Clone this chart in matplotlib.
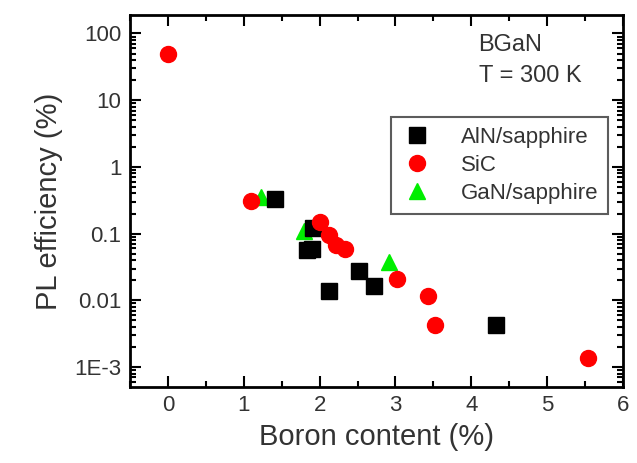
import numpy as np
import matplotlib
matplotlib.use('Agg')
import matplotlib.pyplot as plt
from matplotlib.ticker import LogLocator, MultipleLocator, FixedLocator

plt.rcParams['font.family'] = ['Liberation Sans', 'DejaVu Sans']

# AlN/sapphire (black squares)
aln_x = [1.41, 1.91, 1.84, 1.90, 2.12, 2.52, 2.72, 4.33]
aln_y = [0.33, 0.12, 0.057, 0.058, 0.0138, 0.028, 0.0166, 0.0042]

# SiC (red circles)
sic_x = [0.0, 1.10, 2.01, 2.13, 2.22, 2.33, 3.02, 3.43, 3.52, 5.54]
sic_y = [50, 0.31, 0.148, 0.095, 0.068, 0.058, 0.021, 0.0118, 0.0042, 0.00135]

# GaN/sapphire (green triangles)
gan_x = [1.23, 1.80, 2.92]
gan_y = [0.35, 0.11, 0.037]

ytick_vals = [1e-3, 1e-2, 1e-1, 1, 10, 100]
ytick_labels = ['1E-3', '0.01', '0.1', '1', '10', '100']

fig = plt.figure(figsize=(6.37, 4.63), dpi=100)
ax = fig.add_axes([0.204, 0.164, 0.774, 0.804])

txt = '#333333'
h_gan, = ax.plot(gan_x, gan_y, '^', color='#00ee00', markersize=11.5, linestyle='none', label='GaN/sapphire')
h_aln, = ax.plot(aln_x, aln_y, 's', color='black', markersize=12, linestyle='none', label='AlN/sapphire')
h_sic, = ax.plot(sic_x, sic_y, 'o', color='#ff0000', markersize=11.5, linestyle='none', label='SiC')

ax.set_yscale('log')
ax.set_xlim(-0.5, 6)
ax.set_ylim(10**-3.3, 10**2.28)

ax.xaxis.set_major_locator(MultipleLocator(1))
ax.xaxis.set_minor_locator(MultipleLocator(0.5))
ax.yaxis.set_major_locator(FixedLocator(ytick_vals))
ax.set_yticklabels(ytick_labels)
ax.yaxis.set_minor_locator(LogLocator(base=10, subs=np.arange(2, 10), numticks=20))
ax.yaxis.set_minor_formatter(plt.NullFormatter())

ax.tick_params(which='both', direction='in', top=True, right=True, colors='black',
               labelcolor=txt, labelsize=16, width=1.5)
ax.tick_params(which='major', length=8, pad=6)
ax.tick_params(which='minor', length=4)
for s in ax.spines.values():
    s.set_linewidth(2)

ax.set_xlabel('Boron content (%)', fontsize=21, color=txt, labelpad=5)
ax.set_ylabel('PL efficiency (%)', fontsize=21, color=txt, labelpad=8)

ax.text(0.707, 0.92, 'BGaN', transform=ax.transAxes, fontsize=17, color=txt, va='center')
ax.text(0.707, 0.836, 'T = 300 K', transform=ax.transAxes, fontsize=17, color=txt, va='center')

leg = ax.legend(handles=[h_aln, h_sic, h_gan], loc='upper right', bbox_to_anchor=(0.97, 0.726),
                borderaxespad=0, fontsize=16, frameon=True, fancybox=False, edgecolor='#333333',
                handletextpad=1.2, labelspacing=0.32, borderpad=0.45, handlelength=1.5)
leg.get_frame().set_linewidth(1.5)
for t in leg.get_texts():
    t.set_color(txt)

fig.savefig('out.png', dpi=100)
